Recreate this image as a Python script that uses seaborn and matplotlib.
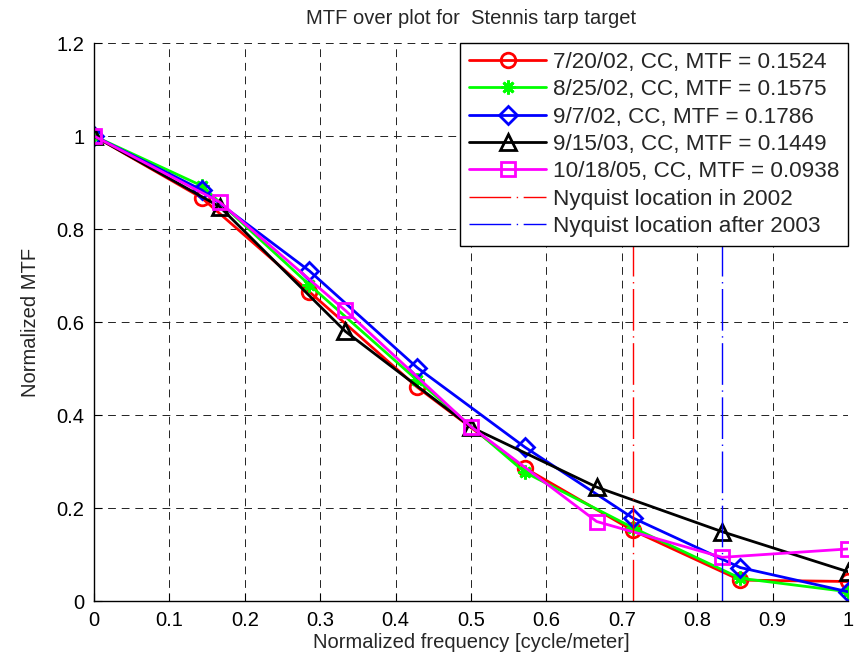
import matplotlib
matplotlib.use("Agg")
import matplotlib.pyplot as plt
import seaborn as sns

# Spatial frequency samples (normalized)
freq_7 = [0.0, 0.1429, 0.2857, 0.4286, 0.5714, 0.7143, 0.8571, 1.0]
freq_6 = [0.0, 0.1667, 0.3333, 0.5, 0.6667, 0.8333, 1.0]

# Normalized MTF curves per collection date
mtf_020720 = [1.0, 0.867, 0.665, 0.460, 0.286, 0.152, 0.045, 0.042]
mtf_020825 = [1.0, 0.893, 0.680, 0.475, 0.277, 0.158, 0.049, 0.020]
mtf_020907 = [1.0, 0.884, 0.710, 0.502, 0.331, 0.179, 0.072, 0.020]
mtf_030915 = [1.0, 0.848, 0.580, 0.374, 0.245, 0.149, 0.063]
mtf_051018 = [1.0, 0.858, 0.625, 0.375, 0.171, 0.094, 0.112]

labels = [
    "7/20/02, CC, MTF = 0.1524",
    "8/25/02, CC, MTF = 0.1575",
    "9/7/02, CC, MTF = 0.1786",
    "9/15/03, CC, MTF = 0.1449",
    "10/18/05, CC, MTF = 0.0938",
]

# Nyquist positions
nyquist_2002 = 0.7143
nyquist_2003 = 0.8333
nyq_labels = ["Nyquist location in 2002", "Nyquist location after 2003"]

sns.set_style("ticks")
plt.rcParams["font.family"] = ["Liberation Sans", "DejaVu Sans"]
plt.rcParams["font.size"] = 14

fig = plt.figure(figsize=(8.6, 6.56), dpi=100)
ax = fig.add_axes([0.1093, 0.0838, 0.8767, 0.8506])

series = [
    (freq_7, mtf_020720, "#ff0000", "o", 10.5),
    (freq_7, mtf_020825, "#00ff00", (8, 2, 0), 10),
    (freq_7, mtf_020907, "#0000ff", "D", 9),
    (freq_6, mtf_030915, "#000000", "^", 11.5),
    (freq_6, mtf_051018, "#ff00ff", "s", 10.5),
]
for (xs, ys, col, mk, ms), lab in zip(series, labels):
    sns.lineplot(x=xs, y=ys, ax=ax, color=col, marker=mk, markersize=ms,
                 markerfacecolor="none", markeredgecolor=col,
                 markeredgewidth=2.0, linewidth=2.0, label=lab, sort=False,
                 estimator=None)

dash_dot = (0, (30, 4, 1, 4))
for xv, col, lab in [(nyquist_2002, "#ff0000", nyq_labels[0]),
                     (nyquist_2003, "#0000ff", nyq_labels[1])]:
    sns.lineplot(x=[xv, xv], y=[0, 1.2], ax=ax, color=col, linewidth=1.0,
                 linestyle=dash_dot, label=lab, sort=False, estimator=None)

ax.set_xlim(0, 1)
ax.set_ylim(0, 1.2)
ax.set_xticks([0, 0.1, 0.2, 0.3, 0.4, 0.5, 0.6, 0.7, 0.8, 0.9, 1])
ax.set_xticklabels(["0", "0.1", "0.2", "0.3", "0.4", "0.5", "0.6", "0.7", "0.8", "0.9", "1"])
ax.set_yticks([0, 0.2, 0.4, 0.6, 0.8, 1.0, 1.2])
ax.set_yticklabels(["0", "0.2", "0.4", "0.6", "0.8", "1", "1.2"])

ax.grid(True, color="#222222", linestyle=(0, (8, 6)), linewidth=0.7)
ax.set_axisbelow(True)
for side in ["top", "right"]:
    ax.spines[side].set_visible(False)
for side in ["left", "bottom"]:
    ax.spines[side].set_linewidth(1.0)
    ax.spines[side].set_color("black")
ax.tick_params(direction="in", length=6, width=0.8, labelsize=14.5, pad=7,
               colors="black")

ax.set_title("MTF over plot for  Stennis tarp target", fontsize=14.5, pad=14)
ax.set_xlabel("Normalized frequency [cycle/meter]", fontsize=14.5, labelpad=2)
ax.set_ylabel("Normalized MTF", fontsize=14.5, labelpad=12)

leg = ax.legend(loc="upper right", bbox_to_anchor=(1.0, 1.0), borderaxespad=0,
                fontsize=16.2, frameon=True, fancybox=False, framealpha=1,
                edgecolor="black", handlelength=3.4, handletextpad=0.3,
                labelspacing=0.28, borderpad=0.4)
leg.get_frame().set_linewidth(1.0)

fig.savefig("out.png", dpi=100)
